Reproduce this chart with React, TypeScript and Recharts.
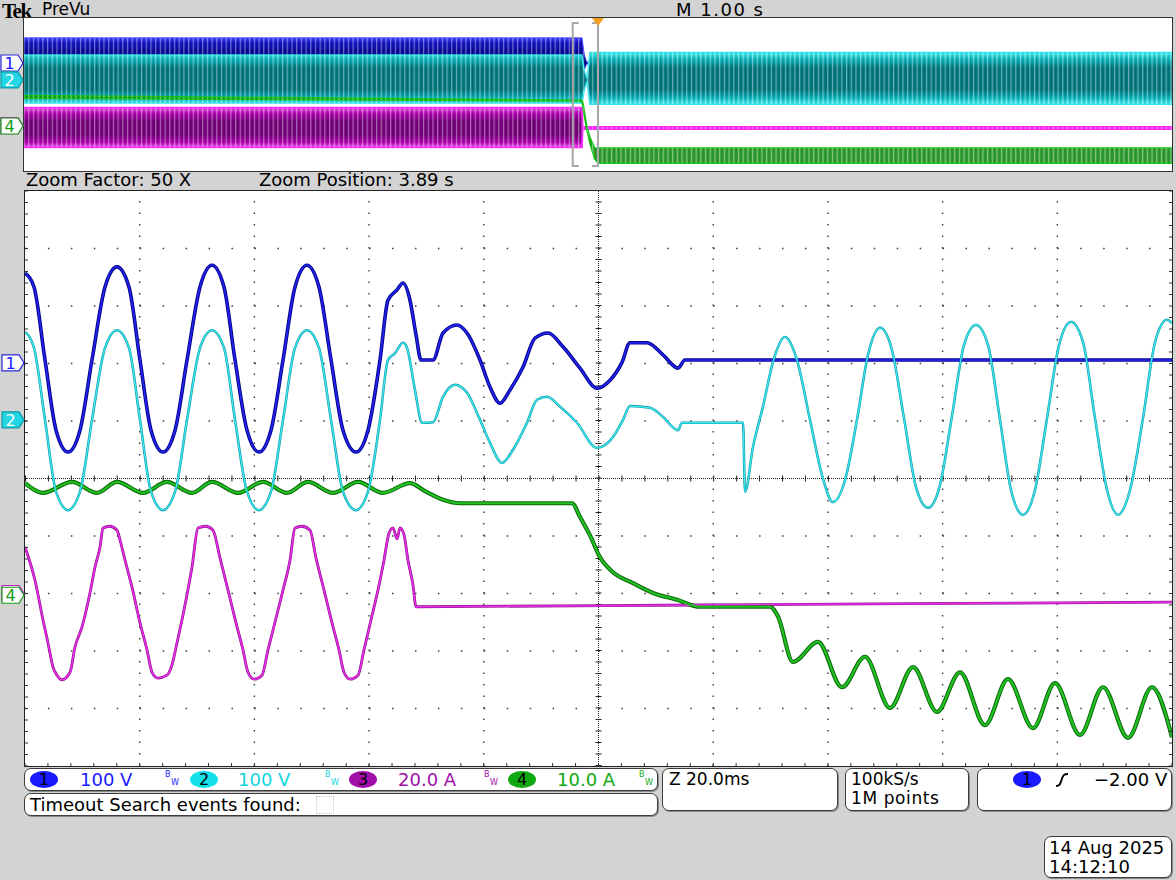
import React from "react"
import {
  LineChart, Line, ComposedChart, Area,
  XAxis, YAxis, ReferenceLine, ReferenceArea, ReferenceDot,
} from "recharts"

// ---- zoom window: time in ms from left edge (20 ms/div), level in screen divisions ----
const ch1T = [0, 1.57, 3.49, 5.41, 7.5, 9.59, 11.68, 13.95, 16.04, 18.13, 20.05, 21.97, 24.06, 26.16, 28.25, 30.51, 32.61, 34.7, 36.62, 38.71, 40.8, 42.89, 44.99, 47.08, 49.17, 51.26, 53.36, 55.45, 57.72, 59.81, 61.9, 63.29, 64.87, 65.91, 67.13, 68.18, 69.05, 71.14, 72.89, 75.33, 77.07, 79.34, 81.08, 82.83, 84.57, 86.84, 88.93, 91.2, 93.81, 96.77, 99.74, 102.01, 104.1, 105.49, 108.46, 111.25, 113.86, 115.08, 200]
const ch1V = [3.57, 3.33, 2.06, 0.84, 0.46, 0.84, 2.06, 3.33, 3.68, 3.33, 2.06, 0.84, 0.46, 0.84, 2.06, 3.33, 3.71, 3.33, 2.06, 0.84, 0.46, 0.84, 2.06, 3.33, 3.71, 3.33, 2.06, 0.84, 0.46, 0.84, 2.06, 3.1, 3.28, 3.4, 3.1, 2.5, 2.06, 2.06, 2.53, 2.67, 2.53, 2.06, 1.59, 1.31, 1.54, 1.94, 2.44, 2.53, 2.29, 1.92, 1.57, 1.71, 2.02, 2.36, 2.36, 2.15, 1.92, 2.06, 2.06]

const ch2T = [0, 1.57, 3.49, 5.41, 7.5, 9.59, 11.68, 13.95, 16.04, 18.13, 20.05, 21.97, 24.06, 26.16, 28.25, 30.51, 32.61, 34.7, 36.62, 38.71, 40.8, 42.89, 44.99, 47.08, 49.17, 51.26, 53.36, 55.45, 57.72, 59.81, 61.9, 63.29, 64.52, 65.91, 66.61, 68.0, 69.23, 71.14, 72.89, 74.98, 77.07, 79.34, 81.08, 83.18, 85.09, 87.53, 89.28, 91.02, 93.29, 96.25, 99.74, 102.53, 104.27, 105.49, 108.98, 111.25, 113.86, 114.56, 125.2, 125.55, 126.94, 128.68, 130.43, 132.52, 134.61, 136.88, 138.97, 140.89, 142.98, 145.07, 146.99, 149.09, 151.18, 153.27, 155.36, 157.46, 159.55, 161.64, 163.73, 165.82, 167.92, 170.01, 171.93, 174.02, 176.11, 178.21, 180.3, 182.39, 184.48, 186.57, 188.67, 190.59, 192.68, 194.94, 197.04, 199.13, 200]
const ch2V = [2.55, 2.27, 1.02, -0.23, -0.55, -0.23, 1.02, 2.27, 2.58, 2.27, 1.02, -0.23, -0.55, -0.23, 1.02, 2.27, 2.58, 2.27, 1.02, -0.23, -0.55, -0.23, 1.02, 2.27, 2.58, 2.27, 1.02, -0.23, -0.55, -0.23, 1.02, 2.06, 2.18, 2.36, 2.27, 1.54, 0.97, 0.98, 1.42, 1.63, 1.49, 1.02, 0.62, 0.27, 0.5, 0.97, 1.37, 1.42, 1.25, 0.97, 0.53, 0.72, 1.02, 1.26, 1.23, 1.07, 0.84, 0.97, 0.97, -0.23, 0.55, 1.25, 2.03, 2.46, 2.06, 1.02, 0.06, -0.41, -0.03, 1.02, 2.15, 2.62, 2.23, 1.05, -0.15, -0.51, -0.11, 1.09, 2.32, 2.67, 2.32, 1.02, -0.2, -0.63, -0.2, 1.05, 2.32, 2.72, 2.37, 1.05, -0.2, -0.63, -0.2, 1.05, 2.37, 2.76, 2.7]

const ch3T = [0, 1.74, 3.14, 4.01, 4.88, 5.58, 6.45, 7.85, 8.72, 9.94, 11.33, 12.21, 13.08, 13.6, 14.82, 16.04, 16.57, 17.44, 18.66, 20.05, 21.27, 22.15, 23.19, 24.76, 25.63, 26.5, 27.9, 29.12, 30.17, 31.56, 32.78, 34.0, 35.4, 36.79, 38.01, 38.88, 39.93, 41.33, 42.37, 43.59, 44.99, 46.21, 47.08, 48.3, 49.7, 50.74, 52.14, 53.53, 54.75, 55.62, 56.67, 58.07, 59.11, 60.33, 61.55, 62.6, 63.47, 64.17, 64.87, 65.39, 66.09, 66.78, 67.65, 68.18, 117.7, 200]
const ch3V = [-1.19, -1.77, -2.46, -2.86, -3.28, -3.42, -3.5, -3.37, -2.93, -2.58, -1.99, -1.54, -1.19, -0.86, -0.83, -0.9, -1.07, -1.42, -1.89, -2.51, -2.98, -3.37, -3.47, -3.42, -3.24, -2.86, -2.2, -1.54, -0.86, -0.83, -0.9, -1.38, -1.94, -2.51, -2.98, -3.37, -3.49, -3.42, -2.98, -2.5, -1.94, -1.42, -0.86, -0.83, -0.9, -1.38, -1.94, -2.51, -2.98, -3.37, -3.49, -3.42, -2.98, -2.46, -1.94, -1.42, -0.95, -0.86, -1.05, -0.86, -0.98, -1.42, -1.85, -2.23, -2.2, -2.15]

const ch4T = [0, 3.14, 8.2, 12.55, 16.04, 20.58, 24.76, 29.12, 32.61, 37.14, 41.5, 45.68, 49.35, 53.71, 58.07, 62.42, 67.13, 69.75, 72.89, 75.85, 95.38, 96.78, 98.52, 100.26, 102.53, 106.02, 109.5, 113.69, 117.7, 129.9, 131.3, 133.92, 138.27, 142.46, 146.47, 150.83, 154.84, 159.02, 163.03, 167.39, 171.4, 175.76, 179.6, 183.96, 187.97, 192.33, 196.51, 200]
const ch4V = [-0.08, -0.25, -0.06, -0.25, -0.06, -0.25, -0.06, -0.25, -0.06, -0.25, -0.06, -0.25, -0.06, -0.25, -0.06, -0.25, -0.08, -0.22, -0.37, -0.43, -0.43, -0.67, -0.99, -1.37, -1.63, -1.82, -1.99, -2.11, -2.23, -2.23, -2.4, -3.19, -2.84, -3.63, -3.1, -3.99, -3.28, -4.06, -3.37, -4.29, -3.49, -4.34, -3.56, -4.46, -3.63, -4.51, -3.63, -4.5]

// ---- PreVu strip: time in s (1 s/div), envelope low/high in divisions ----
const pvT1 = [0, 4.86, 4.88, 4.9, 10]
const pvLo1 = [0.46, 0.46, 1.6, 2.0, 2.0]
const pvHi1 = [3.7, 3.7, 2.6, 2.12, 2.12]
const pvT2 = [0, 4.86, 4.88, 4.905, 4.93, 10]
const pvLo2 = [-0.55, -0.55, 0.3, 0.9, -0.63, -0.63]
const pvHi2 = [2.58, 2.58, 1.6, 1.0, 2.75, 2.75]
const pvT3 = [0, 4.86, 4.865, 10]
const pvLo3 = [-3.45, -3.45, -2.26, -2.26]
const pvHi3 = [-0.86, -0.86, -2.12, -2.12]
const pvT4 = [0, 4.86, 4.87, 4.9, 4.93, 4.97, 5.0, 10]
const pvLo4 = [-0.25, -0.43, -0.9, -2.2, -3.2, -4.2, -4.5, -4.5]
const pvHi4 = [-0.06, -0.37, -0.6, -2.0, -2.8, -3.5, -3.5, -3.5]

// channel ground markers (divisions); ch3 sits just above ch4
const markLabels = ["1", "2", "3", "4"]
const mainMarks = [2.01, 1.02, -2.0, -2.03]
const prevMarks = [2.06, 0.95, -2.03, -2.06]

const majorT = [20, 40, 60, 80, 120, 140, 160, 180]
const majorV = [-4, -3, -2, -1, 1, 2, 3, 4]
const minorT = Array.from({ length: 51 }, (_, i) => i * 4)
const minorV = Array.from({ length: 51 }, (_, i) => Math.round((-5 + i * 0.2) * 100) / 100)

const pts = (t: number[], v: number[]) => t.map((x, i) => ({ t: x, v: v[i] }))
const band = (t: number[], lo: number[], hi: number[]) => t.map((x, i) => ({ t: x, r: [lo[i], hi[i]] }))

const FONT = "'DejaVu Sans', Verdana, sans-serif"

const FLAGS: Record<string, { fill: string; stroke: string; text: string }> = {
  "1": { fill: "#ffffff", stroke: "#2a2ad8", text: "#1a1aff" },
  "2": { fill: "#22d6e4", stroke: "#0a9aa8", text: "#ffffff" },
  "3": { fill: "#ffffff", stroke: "#c020c0", text: "#c020c0" },
  "4": { fill: "#ffffff", stroke: "#139a13", text: "#10a010" },
}

function Flag({ cx, cy, lab }: any) {
  const f = FLAGS[lab]
  const x = cx
  const y = cy
  const l = x - 23
  const r = x - 6
  const d = `M${l},${y - 8} L${r},${y - 8} L${x - 1},${y} L${r},${y + 8} L${l},${y + 8} Z`
  return (
    <g>
      <path d={d} fill={f.fill} stroke={f.stroke} strokeWidth={1.2} />
      <text x={l + 8.5} y={y + 6} textAnchor="middle" fontSize={16} fontFamily={FONT} fill={f.text}>{lab}</text>
    </g>
  )
}

function Box({ left, top, width, height }: any) {
  return (
    <div style={{
      position: "absolute", left, top, width, height, boxSizing: "border-box",
      border: "1px solid #3c3c3c", borderRadius: 7, background: "#fff",
      boxShadow: "1px 1px 0 #8a8a8a",
    }} />
  )
}

function Txt({ left, top, color = "#000", size = 18, spacing = 0, children }: any) {
  return (
    <div style={{ position: "absolute", left, top, color, fontSize: size, fontFamily: FONT, whiteSpace: "nowrap", lineHeight: 1, letterSpacing: spacing }}>
      {children}
    </div>
  )
}

function Badge({ left, top, fill, n }: any) {
  return (
    <div style={{
      position: "absolute", left, top, width: 28, height: 17, borderRadius: "50%",
      background: fill, color: "#000", fontSize: 16, lineHeight: "17px", textAlign: "center", fontFamily: FONT,
    }}>{n}</div>
  )
}

function Bw({ left, color }: any) {
  return (
    <div style={{ position: "absolute", left, top: 771, width: 14, height: 16, color, fontSize: 8, fontFamily: FONT, lineHeight: 1 }}>
      <span style={{ position: "absolute", left: 0, top: 0 }}>B</span>
      <span style={{ position: "absolute", left: 6, top: 8 }}>W</span>
    </div>
  )
}

const traceStyle = [
  { key: "c1", data: pts(ch1T, ch1V), under: "#00008e", core: "#2222e6", wu: 3.6, wc: 1.8 },
  { key: "c3", data: pts(ch3T, ch3V), under: "#8a168a", core: "#ee2cee", wu: 2.8, wc: 1.5 },
  { key: "c4", data: pts(ch4T, ch4V), under: "#0b6a0b", core: "#22c022", wu: 4.2, wc: 2.1 },
  { key: "c2", data: pts(ch2T, ch2V), under: "#0b9aa6", core: "#3ce8f0", wu: 2.5, wc: 1.3 },
]

export default function App() {
  const hidden = () => ""
  return (
    <div style={{ position: "fixed", left: 0, top: 0, width: 1176, height: 880, background: "#d3d3d3", overflow: "hidden", fontFamily: FONT }}>
      {/* header */}
      <div style={{ position: "absolute", left: 2, top: 1, lineHeight: 1, fontFamily: "'Liberation Serif', serif", fontWeight: "bold", fontSize: 21, letterSpacing: -1.5 }}>Tek</div>
      <Txt left={42} top={1} size={17}>PreVu</Txt>
      <Txt left={676} top={1} size={18} spacing={1.5}>M 1.00 s</Txt>

      {/* PreVu strip */}
      <div style={{ position: "absolute", left: 23, top: 17, width: 1150, height: 155, boxSizing: "border-box", border: "1px solid #333", background: "#fff" }} />
      <ComposedChart width={1176} height={175} margin={{ top: 18, right: 4, bottom: 4, left: 24 }} style={{ position: "absolute", left: 0, top: 0, overflow: "visible" }}>
        <defs>
          <linearGradient id="gBlue" x1="0" y1="0" x2="0" y2="1">
            <stop offset="0" stopColor="#4646ff" />
            <stop offset="0.1" stopColor="#1414c4" />
            <stop offset="0.4" stopColor="#00007c" />
            <stop offset="1" stopColor="#00007c" />
          </linearGradient>
          <linearGradient id="gCyan" x1="0" y1="0" x2="0" y2="1">
            <stop offset="0" stopColor="#4af2f6" />
            <stop offset="0.14" stopColor="#08b4bc" />
            <stop offset="0.3" stopColor="#00787e" />
            <stop offset="0.72" stopColor="#00787e" />
            <stop offset="0.88" stopColor="#08b4bc" />
            <stop offset="1" stopColor="#4af2f6" />
          </linearGradient>
          <linearGradient id="gMag" x1="0" y1="0" x2="0" y2="1">
            <stop offset="0" stopColor="#f266f2" />
            <stop offset="0.14" stopColor="#b400b4" />
            <stop offset="0.35" stopColor="#74007a" />
            <stop offset="0.68" stopColor="#74007a" />
            <stop offset="0.88" stopColor="#b400b4" />
            <stop offset="1" stopColor="#f266f2" />
          </linearGradient>
          <pattern id="stripes" width="4.7" height="10" patternUnits="userSpaceOnUse">
            <rect x="0" y="0" width="1.2" height="10" fill="#ffffff" fillOpacity="0.4" />
            <rect x="2.4" y="0" width="0.8" height="10" fill="#000000" fillOpacity="0.18" />
          </pattern>
        </defs>
        <XAxis dataKey="t" type="number" domain={[0, 10]} hide allowDataOverflow />
        <YAxis type="number" domain={[-5, 5]} hide allowDataOverflow />
        <Area data={band(pvT1, pvLo1, pvHi1)} dataKey="r" type="linear" stroke="#3030ff" strokeWidth={1} fill="url(#gBlue)" fillOpacity={1} isAnimationActive={false} />
        <Area data={band(pvT1, pvLo1, pvHi1)} dataKey="r" type="linear" stroke="none" fill="url(#stripes)" fillOpacity={1} isAnimationActive={false} />
        <Area data={band(pvT2, pvLo2, pvHi2)} dataKey="r" type="linear" stroke="#30e6ee" strokeWidth={1.5} fill="url(#gCyan)" fillOpacity={1} isAnimationActive={false} />
        <Area data={band(pvT2, pvLo2, pvHi2)} dataKey="r" type="linear" stroke="none" fill="url(#stripes)" fillOpacity={1} isAnimationActive={false} />
        <Area data={band(pvT3, pvLo3, pvHi3)} dataKey="r" type="linear" stroke="#ff2cff" strokeWidth={2} fill="url(#gMag)" fillOpacity={1} isAnimationActive={false} />
        <Area data={band(pvT3, pvLo3, pvHi3)} dataKey="r" type="linear" stroke="none" fill="url(#stripes)" fillOpacity={1} isAnimationActive={false} />
        <Area data={band(pvT4, pvLo4, pvHi4)} dataKey="r" type="linear" stroke="#14c414" strokeWidth={1.5} fill="#0a8c0a" fillOpacity={0.85} isAnimationActive={false} />
        <Area data={band(pvT4, pvLo4, pvHi4)} dataKey="r" type="linear" stroke="none" fill="url(#stripes)" fillOpacity={1} isAnimationActive={false} />
        <ReferenceArea x1={4.78} x2={5.0} y1={-4.67} y2={4.67} fill="none" fillOpacity={0} stroke="#a8a8a8" strokeWidth={2}
          strokeDasharray="6 13.26 154.9 13.26 148.9" ifOverflow="visible" />
        <ReferenceDot x={5.0} y={5} r={5} ifOverflow="visible"
          shape={(p: any) => <polygon points={`${p.cx - 6},${p.cy} ${p.cx + 6},${p.cy} ${p.cx},${p.cy + 8}`} fill="#f5a21e" />} />
        {prevMarks.map((m, i) => (
          <ReferenceDot key={"pm" + i} x={0} y={m} r={8} ifOverflow="visible"
            shape={(p: any) => <Flag cx={p.cx} cy={p.cy} lab={markLabels[i]} />} />
        ))}
      </ComposedChart>

      <Txt left={26} top={171}>Zoom Factor: 50 X</Txt>
      <Txt left={259} top={171}>Zoom Position: 3.89 s</Txt>

      {/* zoom window */}
      <div style={{ position: "absolute", left: 24, top: 190, width: 1149, height: 577, boxSizing: "border-box", border: "1px solid #222", background: "#fff" }} />
      <LineChart width={1176} height={880} margin={{ top: 191, right: 4, bottom: 114, left: 25 }} style={{ position: "absolute", left: 0, top: 0, overflow: "visible" }}>
        <XAxis dataKey="t" type="number" domain={[0, 200]} allowDataOverflow orientation="bottom" mirror
          ticks={minorT} interval={0} axisLine={false} tickLine={{ stroke: "#333" }} tickSize={3} tickFormatter={hidden} />
        <XAxis xAxisId="top" type="number" domain={[0, 200]} allowDataOverflow orientation="top" mirror
          ticks={minorT} interval={0} axisLine={false} tickLine={{ stroke: "#333" }} tickSize={3} tickFormatter={hidden} />
        <YAxis type="number" domain={[-5, 5]} allowDataOverflow orientation="left" mirror
          ticks={minorV} interval={0} axisLine={false} tickLine={{ stroke: "#333" }} tickSize={3} tickFormatter={hidden} />
        <YAxis yAxisId="right" type="number" domain={[-5, 5]} allowDataOverflow orientation="right" mirror
          ticks={minorV} interval={0} axisLine={false} tickLine={{ stroke: "#333" }} tickSize={3} tickFormatter={hidden} />

        {majorV.map((v) => (
          <ReferenceLine key={"h" + v} y={v} stroke="#3a3a3a" strokeWidth={1.4} strokeDasharray="1.5 21.44" zIndex={-10} />
        ))}
        {majorT.map((t) => (
          <ReferenceLine key={"v" + t} x={t} stroke="#3a3a3a" strokeWidth={1.4} strokeDasharray="1.5 10" zIndex={-10} />
        ))}
        <ReferenceLine y={0} stroke="#222" strokeWidth={1} strokeDasharray="1 1" zIndex={-10} />
        <ReferenceLine y={0} stroke="#222" strokeWidth={6} strokeDasharray="1 21.94" zIndex={-10} />
        <ReferenceLine x={100} stroke="#222" strokeWidth={1} strokeDasharray="1 1" zIndex={-10} />
        <ReferenceLine x={100} stroke="#222" strokeWidth={6} strokeDasharray="1 10.5" zIndex={-10} />

        {traceStyle.map((s) => (
          <Line key={s.key + "u"} data={s.data} dataKey="v" type="monotone" stroke={s.under} strokeWidth={s.wu}
            dot={false} activeDot={false} isAnimationActive={false} />
        ))}
        {traceStyle.map((s) => (
          <Line key={s.key + "c"} data={s.data} dataKey="v" type="monotone" stroke={s.core} strokeWidth={s.wc}
            dot={false} activeDot={false} isAnimationActive={false} />
        ))}
        {mainMarks.map((m, i) => (
          <ReferenceDot key={"mm" + i} x={0} y={m} r={8} ifOverflow="visible"
            shape={(p: any) => <Flag cx={p.cx} cy={p.cy} lab={markLabels[i]} />} />
        ))}
      </LineChart>

      {/* channel readouts */}
      <Box left={24} top={768} width={634} height={23} />
      <Badge left={30} top={771} fill="#1a1aff" n="1" />
      <Txt left={80} top={771} color="#1a1aff">100 V</Txt>
      <Bw left={165} color="#1a1aff" />
      <Badge left={190} top={771} fill="#14e0ea" n="2" />
      <Txt left={238} top={771} color="#10d6e0">100 V</Txt>
      <Bw left={325} color="#10d6e0" />
      <Badge left={349} top={771} fill="#a010a8" n="3" />
      <Txt left={398} top={771} color="#a010a8">20.0 A</Txt>
      <Bw left={484} color="#a010a8" />
      <Badge left={508} top={771} fill="#10a810" n="4" />
      <Txt left={557} top={771} color="#10a810">10.0 A</Txt>
      <Bw left={639} color="#10a810" />

      <Box left={24} top={793} width={634} height={23} />
      <Txt left={30} top={796}>Timeout Search events found:</Txt>
      <div style={{ position: "absolute", left: 316, top: 796, width: 16, height: 16, border: "1px dotted #c8c8d8" }} />

      <Box left={662} top={768} width={176} height={43} />
      <Txt left={669} top={771} size={17}>Z 20.0ms</Txt>

      <Box left={845} top={768} width={124} height={43} />
      <Txt left={851} top={771} size={17}>100kS/s</Txt>
      <Txt left={851} top={790} size={17} spacing={0.6}>1M points</Txt>

      <Box left={977} top={768} width={195} height={43} />
      <Badge left={1013} top={771} fill="#1a1aff" n="1" />
      <svg style={{ position: "absolute", left: 1055, top: 772 }} width={14} height={16}>
        <path d="M1,14 C5,14 5,12 6.5,8 C8,3 9,2 13,2" stroke="#000" strokeWidth={2} fill="none" />
      </svg>
      <Txt left={1094} top={771}>−2.00 V</Txt>

      <Box left={1044} top={836} width={128} height={42} />
      <Txt left={1049} top={839}>14 Aug 2025</Txt>
      <Txt left={1049} top={858}>14:12:10</Txt>
    </div>
  )
}
